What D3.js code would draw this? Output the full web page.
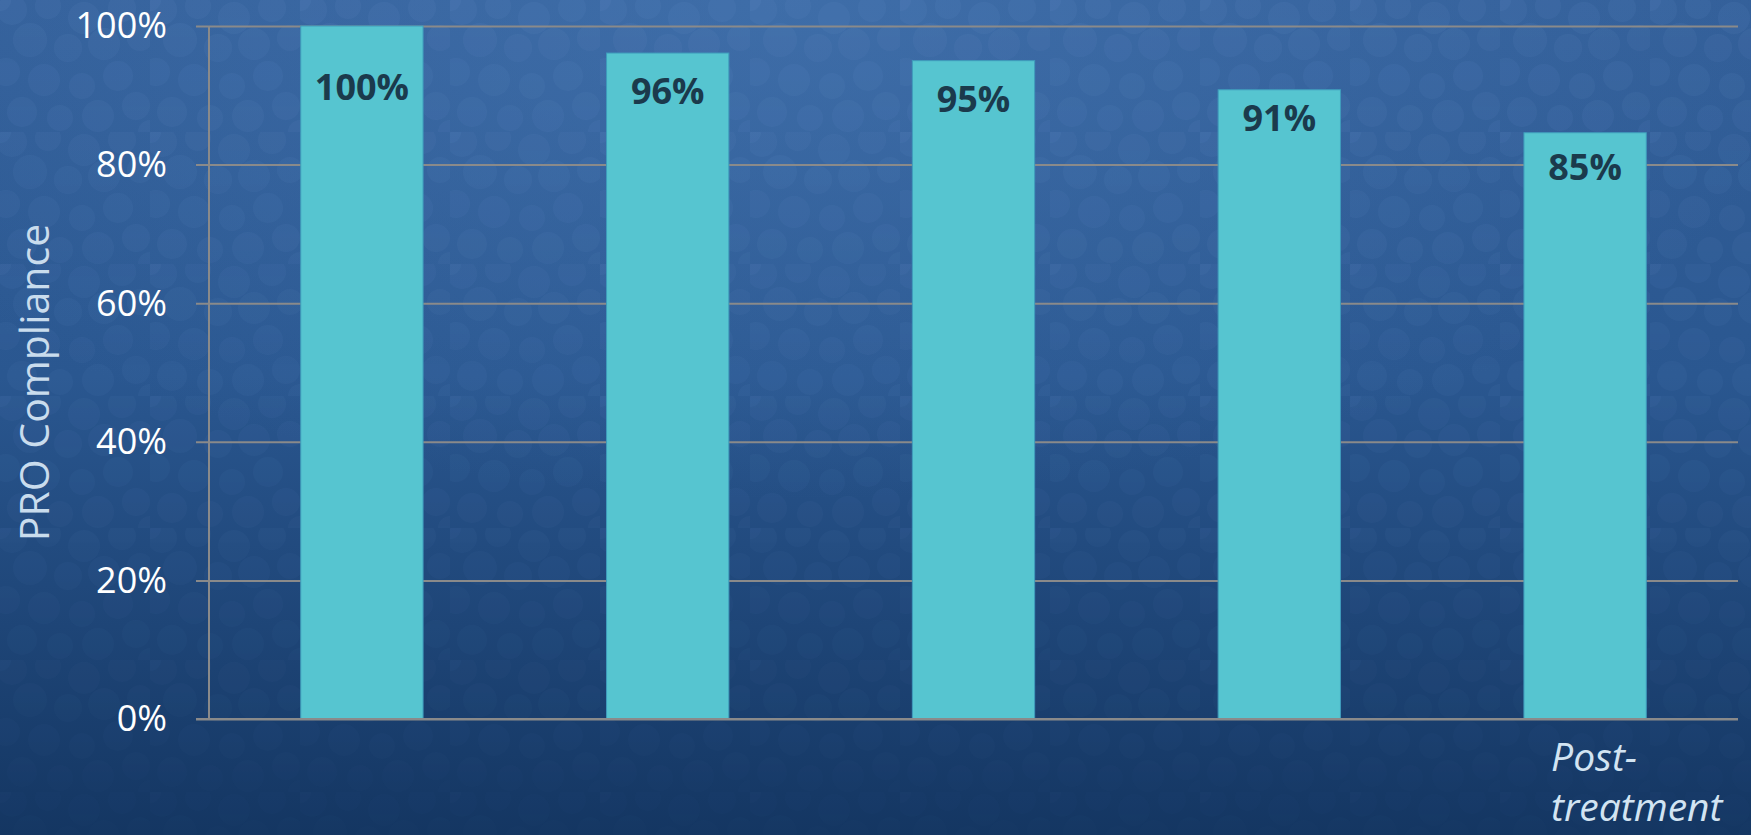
<!DOCTYPE html>
<html>
<head>
<meta charset="utf-8">
<script src="https://cdn.jsdelivr.net/npm/d3@7"></script>
<style>
  html, body { margin: 0; padding: 0; background: #1b4274; }
  svg { display: block; }
</style>
</head>
<body>
<script>
// Compliance by assessment point
const categoryKeys   = ["t1", "t2", "t3", "t4", "t5"];
const categoryLabels = ["", "", "", "", "Post-treatment"];
const compliance     = [1.00, 0.961, 0.95, 0.908, 0.846];
const yTicks         = [0, 0.2, 0.4, 0.6, 0.8, 1.0];
const yTitle         = "PRO Compliance";

// Layout
const W = 1751, H = 835;
const margin = { top: 26, right: 13, bottom: 116, left: 209 };
const labelDrop = [61, 38, 38, 28, 34];   // distance from bar top to value-label centre

const svg = d3.select("body").append("svg")
  .attr("width", W).attr("height", H);

const defs = svg.append("defs");

// Background: blue gradient with a soft highlight near the top
const bg = defs.append("linearGradient").attr("id", "bg")
  .attr("x1", 0).attr("y1", 0).attr("x2", 0).attr("y2", 1);
bg.append("stop").attr("offset", "0%").attr("stop-color", "#335f99");
bg.append("stop").attr("offset", "45%").attr("stop-color", "#2a5790");
bg.append("stop").attr("offset", "100%").attr("stop-color", "#143662");

const glow = defs.append("radialGradient").attr("id", "glow")
  .attr("cx", "45%").attr("cy", "0%").attr("r", "60%");
glow.append("stop").attr("offset", "0%").attr("stop-color", "#4a7cb8").attr("stop-opacity", 0.5);
glow.append("stop").attr("offset", "100%").attr("stop-color", "#4a7cb8").attr("stop-opacity", 0);

// Bubble texture tile
const tile = defs.append("pattern").attr("id", "bubbles")
  .attr("patternUnits", "userSpaceOnUse").attr("width", 150).attr("height", 132);
const bubbleSpots = [
  [12, 10, 15], [48, 6, 13], [84, 18, 16], [122, 8, 14], [30, 40, 17],
  [68, 48, 14], [104, 44, 16], [140, 38, 13], [6, 72, 14], [44, 80, 16],
  [82, 86, 13], [118, 76, 15], [22, 112, 15], [60, 118, 13], [98, 116, 16],
  [136, 106, 14], [150, 132, 12], [0, 0, 11]
];
tile.selectAll("circle").data(bubbleSpots).join("circle")
  .attr("cx", d => d[0]).attr("cy", d => d[1]).attr("r", d => d[2])
  .attr("fill", "#6a9ad0").attr("fill-opacity", 0.1);

const fade = defs.append("linearGradient").attr("id", "fade")
  .attr("x1", 0).attr("y1", 0).attr("x2", 0).attr("y2", 1);
fade.append("stop").attr("offset", "0%").attr("stop-color", "#fff").attr("stop-opacity", 1);
fade.append("stop").attr("offset", "60%").attr("stop-color", "#fff").attr("stop-opacity", 0.55);
fade.append("stop").attr("offset", "100%").attr("stop-color", "#fff").attr("stop-opacity", 0.15);
defs.append("mask").attr("id", "fadeMask")
  .append("rect").attr("width", W).attr("height", H).attr("fill", "url(#fade)");

svg.append("rect").attr("width", W).attr("height", H).attr("fill", "url(#bg)");
svg.append("rect").attr("width", W).attr("height", H).attr("fill", "url(#glow)");
svg.append("rect").attr("width", W).attr("height", H)
  .attr("fill", "url(#bubbles)").attr("mask", "url(#fadeMask)");

// Scales
const x = d3.scaleBand()
  .domain(categoryKeys)
  .range([margin.left, W - margin.right])
  .paddingInner(0.6)
  .paddingOuter(0.3);

const y = d3.scaleLinear()
  .domain([0, 1])
  .range([H - margin.bottom, margin.top]);

const font = "'Open Sans', 'DejaVu Sans', sans-serif";
const gridColor = "#8a8a8a";
const tickLen = 13;

// Horizontal gridlines with short left ticks
const yAxis = d3.axisLeft(y)
  .tickValues(yTicks)
  .tickFormat(d3.format(".0%"))
  .tickSize(0)
  .tickPadding(29);

const gy = svg.append("g")
  .attr("transform", `translate(${margin.left - tickLen},0)`)
  .call(yAxis);
gy.select(".domain").remove();
gy.selectAll(".tick line")
  .attr("stroke", gridColor).attr("stroke-width", 2)
  .attr("x1", 0).attr("x2", W - margin.right - margin.left + tickLen);
gy.selectAll(".tick text")
  .attr("fill", "#ffffff")
  .attr("font-family", font)
  .attr("font-size", 36)
  .attr("dy", "0.33em");

// Vertical axis line
svg.append("line")
  .attr("x1", margin.left).attr("x2", margin.left)
  .attr("y1", y(1)).attr("y2", y(0))
  .attr("stroke", gridColor).attr("stroke-width", 2);

// Bars
svg.append("g").selectAll("rect")
  .data(compliance)
  .join("rect")
  .attr("x", (d, i) => x(categoryKeys[i]))
  .attr("y", d => y(d))
  .attr("width", x.bandwidth())
  .attr("height", d => y(0) - y(d))
  .attr("fill", "#56c5d0")
  .attr("stroke", "#3f9cbc")
  .attr("stroke-width", 1);

// Baseline drawn over the bars
svg.append("line")
  .attr("x1", margin.left - tickLen).attr("x2", W - margin.right)
  .attr("y1", y(0)).attr("y2", y(0))
  .attr("stroke", gridColor).attr("stroke-width", 2);

// Value labels
svg.append("g").selectAll("text")
  .data(compliance)
  .join("text")
  .attr("x", (d, i) => x(categoryKeys[i]) + x.bandwidth() / 2)
  .attr("y", (d, i) => y(d) + labelDrop[i])
  .attr("dy", "0.36em")
  .attr("text-anchor", "middle")
  .attr("font-family", font)
  .attr("font-weight", 700)
  .attr("font-size", 36)
  .attr("fill", "#1b3a4c")
  .text(d3.format(".0%"));

// Category labels (wrapped after the hyphen)
const catG = svg.append("g");
categoryLabels.forEach((label, i) => {
  if (!label) return;
  const parts = label.split(/(?<=-)/);
  const lx = x(categoryKeys[i]) + x.bandwidth() / 2 - 34;
  const t = catG.append("text")
    .attr("x", lx)
    .attr("y", H - margin.bottom + 52)
    .attr("font-family", font)
    .attr("font-style", "italic")
    .attr("font-size", 39)
    .attr("fill", "#d2e4f2");
  parts.forEach((p, k) => {
    t.append("tspan")
      .attr("x", lx)
      .attr("dy", k === 0 ? 0 : 50)
      .text(p);
  });
});

// Y-axis title
svg.append("text")
  .attr("transform", `translate(49, ${(y(0) + y(1)) / 2 + 10}) rotate(-90)`)
  .attr("text-anchor", "middle")
  .attr("font-family", font)
  .attr("font-size", 41)
  .attr("fill", "#c9dced")
  .text(yTitle);
</script>
</body>
</html>
